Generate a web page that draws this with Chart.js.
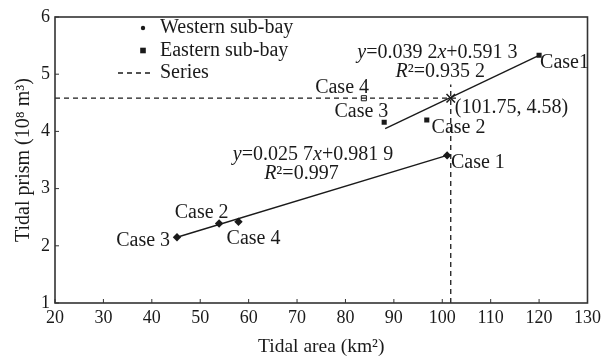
<!DOCTYPE html>
<html>
<head>
<meta charset="utf-8">
<script src="https://cdn.jsdelivr.net/npm/chart.js@4/dist/chart.umd.min.js"></script>
<style>
  html, body { margin: 0; padding: 0; background: #fff; }
  #wrap { width: 605px; height: 360px; }
</style>
</head>
<body>
<div id="wrap"><canvas id="chart"></canvas></div>
<script>
// Western sub-bay cases
const westCases = ["Case 1", "Case 2", "Case 3", "Case 4"];
const westArea = [101.0, 53.9, 45.2, 57.9];
const westPrism = [3.58, 2.39, 2.15, 2.42];

// Eastern sub-bay cases (Case 4 drawn hollow)
const eastCases = ["Case1", "Case 2", "Case 3"];
const eastArea = [120.0, 96.8, 88.0];
const eastPrism = [5.33, 4.20, 4.16];
const eastCase4Area = [83.8];
const eastCase4Prism = [4.58];

// fitted lines, end points
const westFitX = [45.2, 101.0];
const westFitY = [2.15, 3.58];
const eastFitX = [88.2, 120.0];
const eastFitY = [4.05, 5.33];

// reference point and its guide lines
const refPoint = { x: 101.75, y: 4.58 };
const hGuideX = [20, 103];
const vGuideY = [1, 4.82];

const xTicks = [20, 30, 40, 50, 60, 70, 80, 90, 100, 110, 120, 130];
const yTicks = [1, 2, 3, 4, 5, 6];

// text labels placed in data space: [segments, x, y, align]
const labels = [
  [[["y", 1], ["=0.039 2", 0], ["x", 1], ["+0.591 3", 0]], 99.0, 5.37, "center"],
  [[["R", 1], ["²=0.935 2", 0]], 99.6, 5.04, "center"],
  [[["Case1", 0]], 120.2, 5.20, "left"],
  [[["Case 4", 0]], 79.3, 4.76, "center"],
  [[["Case 3", 0]], 83.3, 4.34, "center"],
  [[["(101.75, 4.58)", 0]], 102.6, 4.41, "left"],
  [[["Case 2", 0]], 97.8, 4.06, "left"],
  [[["Case 1", 0]], 101.8, 3.46, "left"],
  [[["y", 1], ["=0.025 7", 0], ["x", 1], ["+0.981 9", 0]], 73.3, 3.59, "center"],
  [[["R", 1], ["²=0.997", 0]], 70.9, 3.26, "center"],
  [[["Case 2", 0]], 50.3, 2.57, "center"],
  [[["Case 3", 0]], 38.2, 2.08, "center"],
  [[["Case 4", 0]], 61.0, 2.12, "center"]
];

const FONT = '"Liberation Serif", "Times New Roman", serif';
const INK = '#1a1a1a';

function pts(xs, ys) { return xs.map((x, i) => ({ x: x, y: ys[i] })); }

function drawSegs(ctx, segs, x, y, align, size) {
  let total = 0;
  segs.forEach(s => {
    ctx.font = (s[1] ? 'italic ' : '') + size + 'px ' + FONT;
    total += ctx.measureText(s[0]).width;
  });
  let cx = align === 'center' ? x - total / 2 : x;
  ctx.textAlign = 'left';
  ctx.textBaseline = 'middle';
  segs.forEach(s => {
    ctx.font = (s[1] ? 'italic ' : '') + size + 'px ' + FONT;
    ctx.fillText(s[0], cx, y);
    cx += ctx.measureText(s[0]).width;
  });
}

const decor = {
  id: 'decor',
  afterDraw(chart) {
    const ctx = chart.ctx, a = chart.chartArea;
    const xs = chart.scales.x, ys = chart.scales.y;
    ctx.save();
    // frame
    ctx.strokeStyle = '#333';
    ctx.lineWidth = 1.6;
    ctx.strokeRect(a.left, a.top, a.right - a.left, a.bottom - a.top);
    // inward ticks
    ctx.lineWidth = 1;
    xTicks.forEach(v => {
      const p = xs.getPixelForValue(v);
      ctx.beginPath(); ctx.moveTo(p, a.bottom); ctx.lineTo(p, a.bottom - 4); ctx.stroke();
    });
    yTicks.forEach(v => {
      const p = ys.getPixelForValue(v);
      ctx.beginPath(); ctx.moveTo(a.left, p); ctx.lineTo(a.left + 4, p); ctx.stroke();
    });
    // annotations
    ctx.fillStyle = INK;
    labels.forEach(l => {
      drawSegs(ctx, l[0], xs.getPixelForValue(l[1]), ys.getPixelForValue(l[2]), l[3], 20);
    });
    // legend
    const lx = a.left + 88, ly = a.top + 11, step = 22.5;
    ctx.fillStyle = INK;
    ctx.beginPath(); ctx.arc(lx, ly, 2.2, 0, Math.PI * 2); ctx.fill();
    ctx.fillRect(lx - 2.8, ly + step - 2.8, 5.6, 5.6);
    ctx.strokeStyle = INK; ctx.lineWidth = 1.3; ctx.setLineDash([5, 4]);
    ctx.beginPath(); ctx.moveTo(lx - 25, ly + 2 * step); ctx.lineTo(lx + 10, ly + 2 * step); ctx.stroke();
    ctx.setLineDash([]);
    ['Western sub-bay', 'Eastern sub-bay', 'Series'].forEach((t, i) => {
      drawSegs(ctx, [[t, 0]], lx + 17, ly + i * step, 'left', 20);
    });
    ctx.restore();
  }
};

const ctx = document.getElementById('chart').getContext('2d');
new Chart(ctx, {
  type: 'scatter',
  data: {
    datasets: [
      { label: 'Series H', data: pts(hGuideX, [refPoint.y, refPoint.y]), showLine: true, borderColor: INK, borderWidth: 1.3, borderDash: [5, 4], pointRadius: 0 },
      { label: 'Series V', data: pts([refPoint.x, refPoint.x], vGuideY), showLine: true, borderColor: INK, borderWidth: 1.3, borderDash: [5, 4], pointRadius: 0 },
      { label: 'West fit', data: pts(westFitX, westFitY), showLine: true, borderColor: INK, borderWidth: 1.4, pointRadius: 0 },
      { label: 'East fit', data: pts(eastFitX, eastFitY), showLine: true, borderColor: INK, borderWidth: 1.4, pointRadius: 0 },
      { label: 'Western sub-bay', data: pts(westArea, westPrism), pointStyle: 'rectRot', pointRadius: 4.2, backgroundColor: INK, borderColor: INK, borderWidth: 0 },
      { label: 'Eastern sub-bay', data: pts(eastArea, eastPrism), pointStyle: 'rect', pointRadius: 3.6, backgroundColor: INK, borderColor: INK, borderWidth: 0 },
      { label: 'Eastern Case 4', data: pts(eastCase4Area, eastCase4Prism), pointStyle: 'rect', pointRadius: 3.6, backgroundColor: '#fff', borderColor: INK, borderWidth: 1 },
      { label: 'Ref', data: [refPoint], pointStyle: 'crossRot', pointRadius: 6, borderColor: INK, borderWidth: 1.5 }
    ]
  },
  options: {
    responsive: true,
    maintainAspectRatio: false,
    animation: false,
    layout: { padding: { top: 17, right: 1, left: 0, bottom: 0 } },
    plugins: { legend: { display: false }, tooltip: { enabled: false } },
    scales: {
      x: {
        type: 'linear', min: 20, max: 130,
        afterBuildTicks(s) { s.ticks = xTicks.map(v => ({ value: v })); },
        afterFit(s) { s.height = 57; },
        grid: { display: false, drawTicks: false },
        border: { display: false },
        ticks: { color: INK, font: { family: FONT, size: 18 }, padding: 4, maxRotation: 0 },
        title: { display: true, text: 'Tidal area (km²)', color: INK, font: { family: FONT, size: 19.5 }, padding: { top: 2, bottom: 1 } }
      },
      y: {
        type: 'linear', min: 1, max: 6,
        afterBuildTicks(s) { s.ticks = yTicks.map(v => ({ value: v })); },
        afterFit(s) { s.width = 55; },
        grid: { display: false, drawTicks: false },
        border: { display: false },
        ticks: { color: INK, font: { family: FONT, size: 18 }, padding: 5 },
        title: { display: true, text: 'Tidal prism (10⁸ m³)', color: INK, font: { family: FONT, size: 20 }, padding: { top: 12, bottom: 0 } }
      }
    }
  },
  plugins: [decor]
});
</script>
</body>
</html>
